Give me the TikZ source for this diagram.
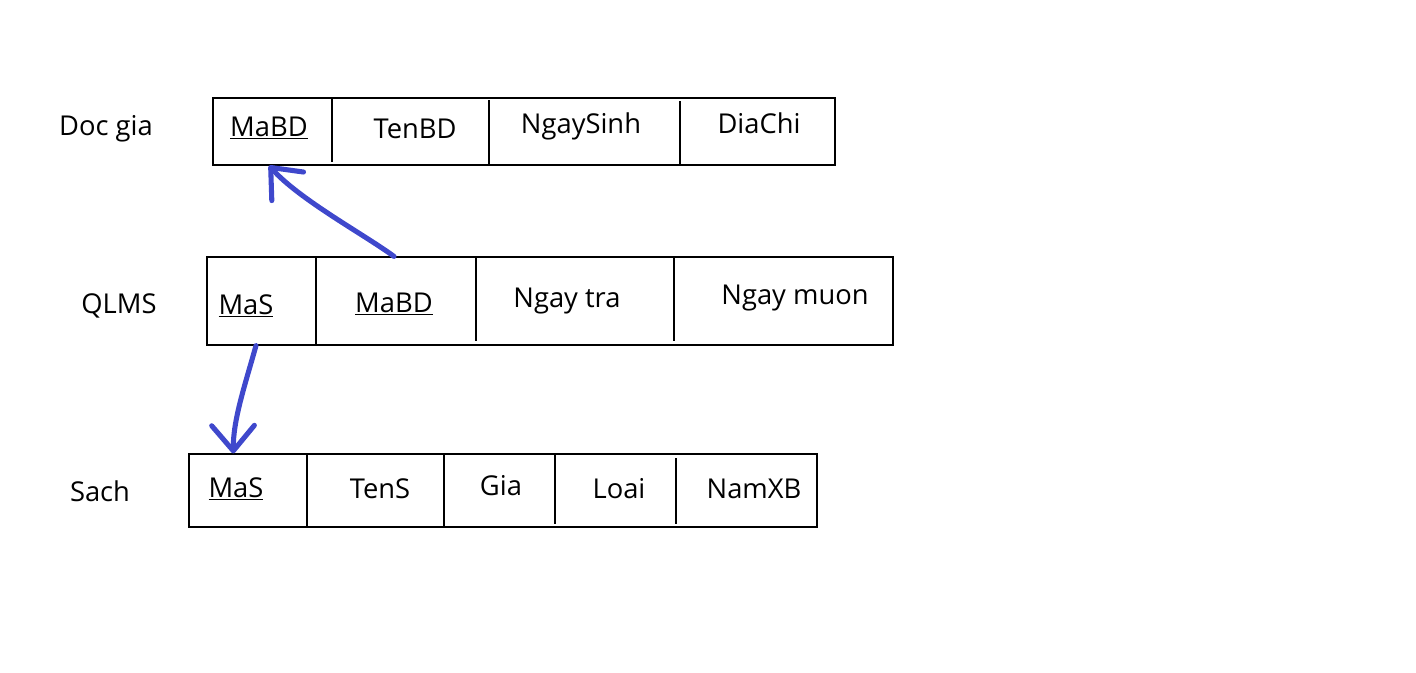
\documentclass[tikz,border=0pt]{standalone}
\usepackage{fontspec}
\setmainfont{Open Sans}
\usetikzlibrary{arrows.meta,fit}
\definecolor{penblue}{RGB}{63,72,204}

\begin{document}
\begin{tikzpicture}[x=0.75pt, y=-0.75pt,
    every node/.style={font=\fontsize{20.5}{24}\selectfont},
    frame/.style={draw, line width=0.9pt, inner sep=0pt},
    fk/.style={draw=penblue, line width=3.8pt, line cap=round, line join=round,
      -{Straight Barb[length=19pt, width=32pt, line width=3.8pt, round]}}]
  \useasboundingbox (0,0) rectangle (1416,672);
  % Doc gia
  \node (tdg) at (106,129) {Doc gia};
  \node[frame, fit={(213,98) (835,165)}] (dg) {};
  \draw[line width=0.9pt] (332,98) -- (332,162) (489,100) -- (489,165) (680,101) -- (680,165);
  \node (dmabd) at (269,128) {\underline{MaBD}};
  \node (dtenbd) at (415,129) {TenBD};
  \node (dngay) at (581,126) {NgaySinh};
  \node (ddiachi) at (759,123) {DiaChi};
  % QLMS
  \node (tql) at (119,306) {QLMS};
  \node[frame, fit={(207,257) (893,345)}] (ql) {};
  \draw[line width=0.9pt] (316,257) -- (316,345) (476,258) -- (476,341) (674,258) -- (674,341);
  \node (qmas) at (246,306) {\underline{MaS}};
  \node (qmabd) at (394,304) {\underline{MaBD}};
  \node (qtra) at (567,301) {Ngay tra};
  \node (qmuon) at (795,298) {Ngay muon};
  % Sach
  \node (tsa) at (100,491) {Sach};
  \node[frame, fit={(189,454) (817,527)}] (sa) {};
  \draw[line width=0.9pt] (307,454) -- (307,527) (444,454) -- (444,527) (555,454) -- (555,524) (676,458) -- (676,524);
  \node (smas) at (236,489) {\underline{MaS}};
  \node (stens) at (380,489) {TenS};
  \node (sgia) at (501,486) {Gia};
  \node (sloai) at (619,489) {Loai};
  \node (snam) at (754,489) {NamXB};
  % foreign keys
  \draw[fk] (qmabd.north |- ql.north) .. controls (365,235) and (300,200) .. (dmabd.south |- dg.south);
  \draw[fk] ([xshift=7.5pt]qmas.south |- ql.south) .. controls (245,385) and (233,420) .. ([xshift=-2pt]smas.north |- sa.north);
\end{tikzpicture}
\end{document}
